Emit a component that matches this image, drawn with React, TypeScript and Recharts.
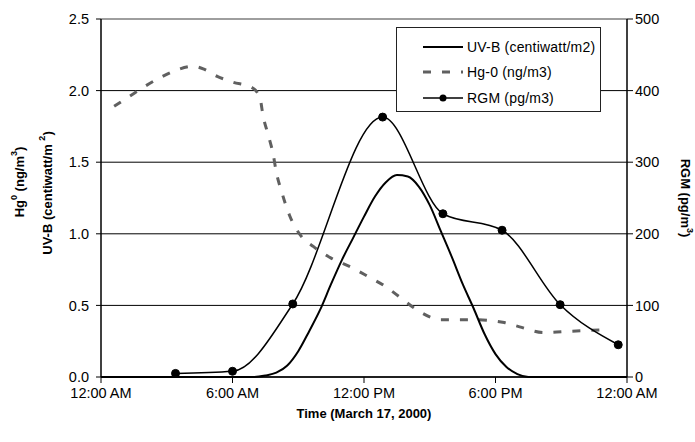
import React from "react";
import {
  ComposedChart,
  Line,
  XAxis,
  YAxis,
  CartesianGrid,
  ReferenceLine,
  Legend,
  Label,
} from "recharts";

// hours after midnight, March 17 2000
const uvbHours = [0, 1, 2, 3, 4, 5, 6, 7, 7.5, 8, 8.5, 9, 9.5, 10, 10.5, 11, 11.5, 12, 12.5, 13, 13.5, 14, 14.5, 15, 15.5, 16, 16.5, 17, 17.5, 18, 18.5, 19, 19.5, 20, 21, 22, 23, 24];
const uvbValues = [0, 0, 0, 0, 0, 0, 0, 0, 0.01, 0.03, 0.08, 0.18, 0.32, 0.47, 0.65, 0.82, 0.97, 1.12, 1.26, 1.36, 1.41, 1.4, 1.33, 1.2, 1.02, 0.84, 0.65, 0.48, 0.3, 0.16, 0.07, 0.02, 0, 0, 0, 0, 0, 0];

const hgHours = [0.6, 1.5, 1.9, 2.7, 3.4, 4.2, 4.7, 5.3, 6.0, 6.9, 7.25, 7.4, 7.65, 7.85, 8.0, 8.25, 8.6, 9.1, 9.7, 10.5, 11.5, 12.2, 13.0, 13.7, 14.5, 15.5, 17.0, 18.4, 19.1, 20.2, 21.5, 23.1];
const hgValues = [1.89, 1.98, 2.02, 2.09, 2.14, 2.17, 2.15, 2.1, 2.06, 2.02, 1.95, 1.82, 1.68, 1.56, 1.43, 1.29, 1.13, 0.99, 0.91, 0.83, 0.76, 0.7, 0.63, 0.55, 0.46, 0.4, 0.4, 0.38, 0.35, 0.31, 0.32, 0.33];

const rgmHours = [3.4, 6.0, 8.75, 12.85, 15.6, 18.3, 20.95, 23.6];
const rgmValues = [5, 8, 102, 363, 228, 205, 101, 45];

const timeTicks = [0, 6, 12, 18, 24];
const timeLabels = ["12:00 AM", "6:00 AM", "12:00 PM", "6:00 PM", "12:00 AM"];
const leftTicks = [0, 0.5, 1, 1.5, 2, 2.5];
const rightTicks = [0, 100, 200, 300, 400, 500];

const toPoints = (xs: number[], ys: number[]) => xs.map((t, i) => ({ t, v: ys[i] }));

const uvbData = toPoints(uvbHours, uvbValues);
const hgData = toPoints(hgHours, hgValues);
const rgmData = toPoints(rgmHours, rgmValues);

const FONT = "'Liberation Sans', Arial, sans-serif";
const tickStyle = { fill: "#000", fontSize: 14.5, fontFamily: FONT };

const LeftTitle = (props: any) => {
  const { x, y, height } = props.viewBox;
  const cy = y + height / 2;
  return (
    <g fontFamily={FONT} fontWeight="bold" fontSize={13} fill="#000">
      <text x={x + 19} y={cy - 16} textAnchor="middle" dominantBaseline="central" transform={`rotate(-90 ${x + 19} ${cy - 16})`}>
        Hg<tspan baselineShift="super" fontSize={9}>0</tspan> (ng/m<tspan baselineShift="super" fontSize={9}>3</tspan>)
      </text>
      <text x={x + 47} y={cy - 5} textAnchor="middle" dominantBaseline="central" transform={`rotate(-90 ${x + 47} ${cy - 5})`}>
        UV-B (centiwatt/m <tspan baselineShift="super" fontSize={9}>2</tspan>)
      </text>
    </g>
  );
};

const RightTitle = (props: any) => {
  const { x, y, height } = props.viewBox;
  const cx = x + 58;
  const cy = y + height / 2;
  return (
    <text x={cx} y={cy} textAnchor="middle" dominantBaseline="central" transform={`rotate(90 ${cx} ${cy})`} fontFamily={FONT} fontWeight="bold" fontSize={13} fill="#000">
      RGM (pg/m<tspan baselineShift="super" fontSize={9}>3</tspan>)
    </text>
  );
};

const BottomTitle = (props: any) => {
  const { x, y, width } = props.viewBox;
  return (
    <text x={x + width / 2} y={y + 36} textAnchor="middle" dominantBaseline="central" fontFamily={FONT} fontWeight="bold" fontSize={13} fill="#000">
      Time (March 17, 2000)
    </text>
  );
};

const legendItems = [
  { name: "UV-B (centiwatt/m2)", dash: "", width: 2, color: "#000", dot: false },
  { name: "Hg-0 (ng/m3)", dash: "8 11", width: 3, color: "#606060", dot: false },
  { name: "RGM (pg/m3)", dash: "", width: 1.5, color: "#000", dot: true },
];

const LegendBox = () => (
  <div
    style={{
      width: 205,
      height: 85,
      border: "1px solid #222",
      background: "#fff",
      boxSizing: "border-box",
      paddingTop: 6,
      fontFamily: FONT,
      fontSize: 14,
      color: "#000",
    }}
  >
    {legendItems.map((item) => (
      <div key={item.name} style={{ display: "flex", alignItems: "center", height: 25.5 }}>
        <svg width={70} height={12} style={{ flex: "none" }}>
          <line x1={26} x2={66} y1={6} y2={6} stroke={item.color} strokeWidth={item.width} strokeDasharray={item.dash} />
          {item.dot && <circle cx={46} cy={6} r={3.5} fill="#000" />}
        </svg>
        <span style={{ letterSpacing: 0.2 }}>{item.name}</span>
      </div>
    ))}
  </div>
);

export default function App() {
  return (
    <div style={{ position: "absolute", left: 0, top: 0, background: "#fff" }}>
      <ComposedChart width={695} height={442} margin={{ top: 19, right: 0, left: 0, bottom: 0 }}>
        <CartesianGrid yAxisId="left" vertical={false} stroke="#000" strokeWidth={1} />
        <XAxis
          dataKey="t"
          type="number"
          domain={[0, 24]}
          ticks={timeTicks}
          tickFormatter={(v: number) => timeLabels[timeTicks.indexOf(v)]}
          height={65}
          tick={tickStyle}
          tickSize={6}
          tickMargin={5}
          axisLine={{ stroke: "#000", strokeWidth: 1.5 }}
          tickLine={{ stroke: "#000" }}
          allowDuplicatedCategory={false}
        >
          <Label content={BottomTitle} />
        </XAxis>
        <YAxis
          yAxisId="left"
          domain={[0, 2.5]}
          ticks={leftTicks}
          tickFormatter={(v: number) => v.toFixed(1)}
          width={101}
          tick={tickStyle}
          tickSize={5}
          tickMargin={7}
          axisLine={{ stroke: "#000", strokeWidth: 1.5 }}
          tickLine={{ stroke: "#000" }}
        >
          <Label content={LeftTitle} />
        </YAxis>
        <YAxis
          yAxisId="right"
          orientation="right"
          domain={[0, 500]}
          ticks={rightTicks}
          width={68}
          tick={tickStyle}
          tickSize={6}
          tickMargin={2}
          axisLine={{ stroke: "#000", strokeWidth: 1.5 }}
          tickLine={{ stroke: "#000" }}
        >
          <Label content={RightTitle} />
        </YAxis>
        <ReferenceLine yAxisId="left" y={2.5} stroke="#a8a8a8" strokeWidth={1.5} />
        <Line
          yAxisId="left"
          data={hgData}
          dataKey="v"
          type="monotone"
          stroke="#606060"
          strokeWidth={3}
          strokeDasharray="8 11"
          dot={false}
          isAnimationActive={false}
        />
        <Line
          yAxisId="left"
          data={uvbData}
          dataKey="v"
          type="monotone"
          stroke="#000"
          strokeWidth={2}
          dot={false}
          isAnimationActive={false}
        />
        <Line
          yAxisId="right"
          data={rgmData}
          dataKey="v"
          type="monotone"
          stroke="#000"
          strokeWidth={1.5}
          dot={{ r: 4, fill: "#000", stroke: "#000", strokeWidth: 1 }}
          isAnimationActive={false}
        />
        <Legend
          layout="horizontal"
          verticalAlign="middle"
          align="center"
          content={LegendBox}
          wrapperStyle={{ left: 396, top: 27, width: 205, height: 85 }}
        />
      </ComposedChart>
    </div>
  );
}
